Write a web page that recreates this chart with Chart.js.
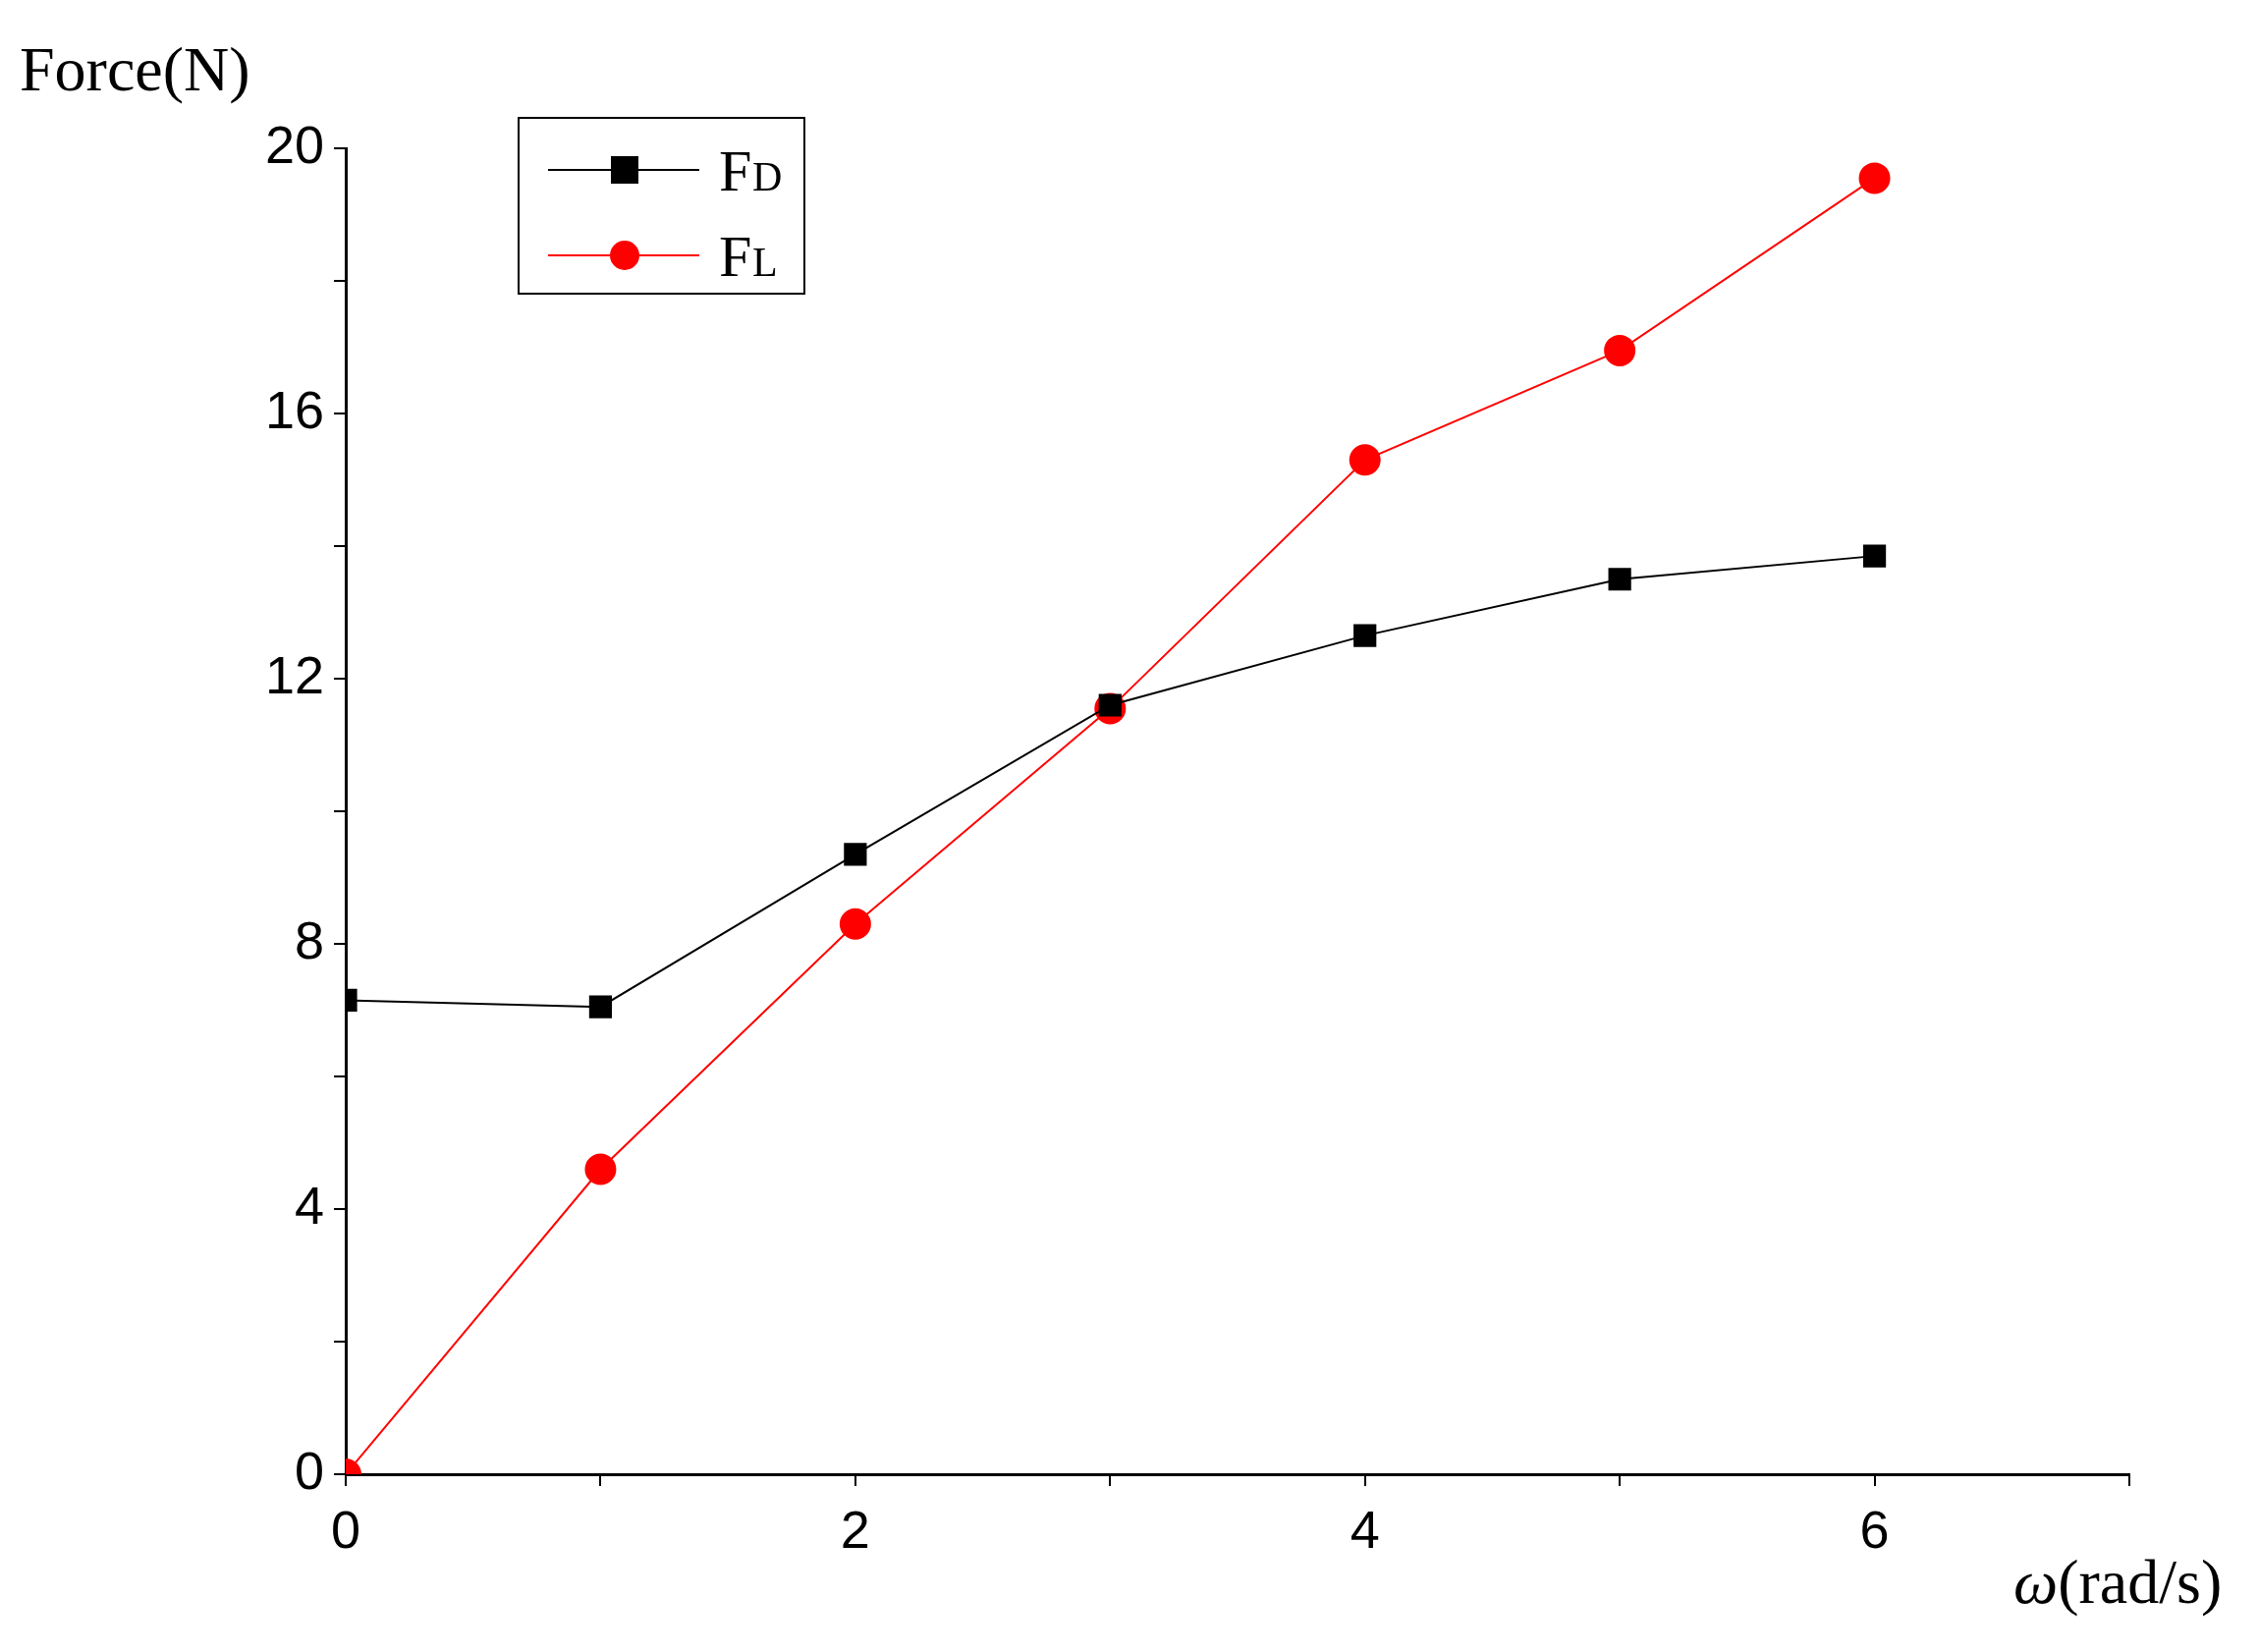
<!DOCTYPE html>
<html lang="en">
<head>
<meta charset="UTF-8">
<title>Force vs omega</title>
<style>
  body { margin: 0; background: #fff; }
  #wrap { width: 2300px; height: 1682px; }
</style>
</head>
<body>
<div id="wrap"><canvas id="chart"></canvas></div>
<script src="https://cdn.jsdelivr.net/npm/chart.js"></script>
<script>
const omega = [0, 1, 2, 3, 4, 5, 6];
const forceD = [7.15, 7.05, 9.35, 11.6, 12.65, 13.5, 13.85];
const forceL = [0, 4.6, 8.3, 11.55, 15.3, 16.95, 19.55];
const yTicks = [0, 4, 8, 12, 16, 20];
const xTicks = [0, 2, 4, 6];

const pts = (ys) => omega.map((x, i) => ({ x: x, y: ys[i] }));

// titles and legend box drawn on top
const extras = {
    id: 'extras',
    afterDraw(chart) {
        const c = chart.ctx;
        c.save();
        c.fillStyle = '#000';
        c.font = '64px "Liberation Serif"';
        c.textBaseline = 'alphabetic';
        c.fillText('Force(N)', 20, 92);
        c.font = 'italic 64px "Liberation Serif"';
        c.fillText('ω', 2050, 1632);
        const w = c.measureText('ω').width;
        c.font = '64px "Liberation Serif"';
        c.fillText('(rad/s)', 2050 + w, 1632);

        // legend
        c.strokeStyle = '#000';
        c.lineWidth = 2;
        c.strokeRect(528, 120, 291, 179);
        const rows = [
            { y: 173, color: '#000', style: 'rect', sub: 'D' },
            { y: 260, color: '#ff0000', style: 'circle', sub: 'L' }
        ];
        rows.forEach(r => {
            c.strokeStyle = r.color;
            c.lineWidth = 2;
            c.beginPath(); c.moveTo(558, r.y); c.lineTo(712, r.y); c.stroke();
            c.fillStyle = r.color;
            if (r.style === 'rect') c.fillRect(622, r.y - 14, 28, 28);
            else { c.beginPath(); c.arc(636, r.y, 15, 0, Math.PI * 2); c.fill(); }
            c.fillStyle = '#000';
            c.font = '60px "Liberation Serif"';
            c.fillText('F', 732, r.y + 21);
            c.font = '42px "Liberation Serif"';
            c.fillText(r.sub, 766, r.y + 21);
        });
        c.restore();
    }
};

new Chart(document.getElementById('chart'), {
    type: 'line',
    data: {
        datasets: [{
            label: 'FD',
            data: pts(forceD),
            borderColor: '#000',
            backgroundColor: '#000',
            borderWidth: 2,
            pointStyle: 'rect',
            pointRadius: 15,
            pointHoverRadius: 15,
            tension: 0
        }, {
            label: 'FL',
            data: pts(forceL),
            borderColor: '#ff0000',
            backgroundColor: '#ff0000',
            borderWidth: 2,
            pointStyle: 'circle',
            pointRadius: 15,
            pointHoverRadius: 15,
            tension: 0
        }]
    },
    options: {
        responsive: true,
        maintainAspectRatio: false,
        animation: false,
        layout: { padding: { top: 151, right: 132, left: 0, bottom: 0 } },
        plugins: { legend: { display: false }, tooltip: { enabled: false } },
        scales: {
            x: {
                type: 'linear', min: 0, max: 7,
                afterFit: s => { s.height = 181; },
                border: { color: '#000', width: 3 },
                grid: { drawOnChartArea: false, color: '#000', tickLength: 12, lineWidth: 2 },
                ticks: {
                    stepSize: 1, color: '#000', padding: 16,
                    font: { family: 'Liberation Sans', size: 54 },
                    callback: v => xTicks.includes(v) ? String(v) : ''
                }
            },
            y: {
                type: 'linear', min: 0, max: 20,
                afterFit: s => { s.width = 352; },
                border: { color: '#000', width: 3 },
                grid: { drawOnChartArea: false, color: '#000', tickLength: 12, lineWidth: 2 },
                ticks: {
                    stepSize: 2, color: '#000', padding: 10,
                    font: { family: 'Liberation Sans', size: 54 },
                    callback: v => yTicks.includes(v) ? String(v) : ''
                }
            }
        }
    },
    plugins: [extras]
});
</script>
</body>
</html>
